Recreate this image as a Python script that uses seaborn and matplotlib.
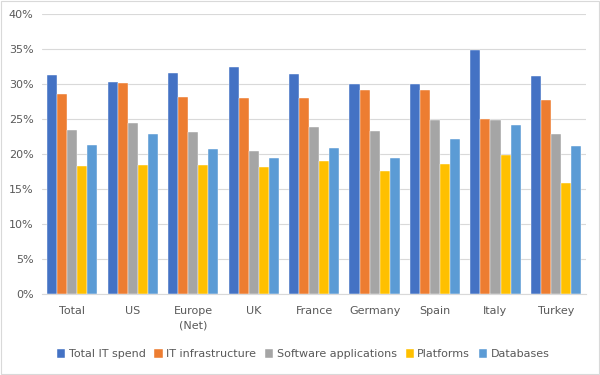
import numpy as np
import pandas as pd
import matplotlib.pyplot as plt
import seaborn as sns
from matplotlib.ticker import PercentFormatter

# dados
regioes = ['Total', 'US', 'Europe\n(Net)', 'UK', 'France', 'Germany', 'Spain', 'Italy', 'Turkey']
series = ['Total IT spend', 'IT infrastructure', 'Software applications', 'Platforms', 'Databases']
total_it = [31.3, 30.3, 31.6, 32.4, 31.4, 30.0, 30.0, 34.8, 31.2]
infra = [28.6, 30.1, 28.1, 28.0, 28.0, 29.2, 29.2, 25.0, 27.7]
software = [23.4, 24.4, 23.1, 20.4, 23.9, 23.3, 24.9, 24.9, 22.9]
plataformas = [18.3, 18.4, 18.4, 18.1, 19.0, 17.6, 18.6, 19.8, 15.9]
bancos = [21.3, 22.8, 20.7, 19.4, 20.8, 19.4, 22.2, 24.2, 21.2]
cores = ['#4472C4', '#ED7D31', '#A5A5A5', '#FFC000', '#5B9BD5']

valores = [total_it, infra, software, plataformas, bancos]
df = pd.DataFrame({
    'regiao': regioes * len(series),
    'serie': np.repeat(series, len(regioes)),
    'valor': np.concatenate(valores),
})

sns.set_style('white')
fig = plt.figure(figsize=(6, 3.75), dpi=100)
ax = fig.add_axes([0.07, 0.216, 0.907, 0.747])

sns.barplot(data=df, x='regiao', y='valor', hue='serie', palette=cores,
            width=0.83, gap=0, ax=ax, saturation=1, edgecolor='white', linewidth=0.3)

ax.set_ylim(0, 40)
ax.set_yticks(range(0, 41, 5))
ax.yaxis.set_major_formatter(PercentFormatter(decimals=0))
ax.grid(axis='y', color='#D9D9D9', linewidth=0.8)
ax.set_axisbelow(True)
ax.set_xlabel('')
ax.set_ylabel('')
for s in ['top', 'right', 'left']:
    ax.spines[s].set_visible(False)
ax.spines['bottom'].set_color('#D9D9D9')
ax.tick_params(axis='both', labelsize=8, colors='#595959', length=0)
ax.tick_params(axis='x', pad=9)
ax.tick_params(axis='y', pad=6)
for t in ax.get_xticklabels():
    t.set_linespacing(1.5)

ax.legend(loc='center', bbox_to_anchor=(0.48, -0.214), ncol=5, frameon=False,
          fontsize=8, labelcolor='#595959', handlelength=0.75, handleheight=0.9,
          handletextpad=0.3, columnspacing=0.8)

# moldura da figura
fig.patches.append(plt.Rectangle((0.002, 0.003), 0.996, 0.994, transform=fig.transFigure,
                                 fill=False, edgecolor='#D9D9D9', linewidth=0.8))

fig.savefig('out.png', dpi=100)
